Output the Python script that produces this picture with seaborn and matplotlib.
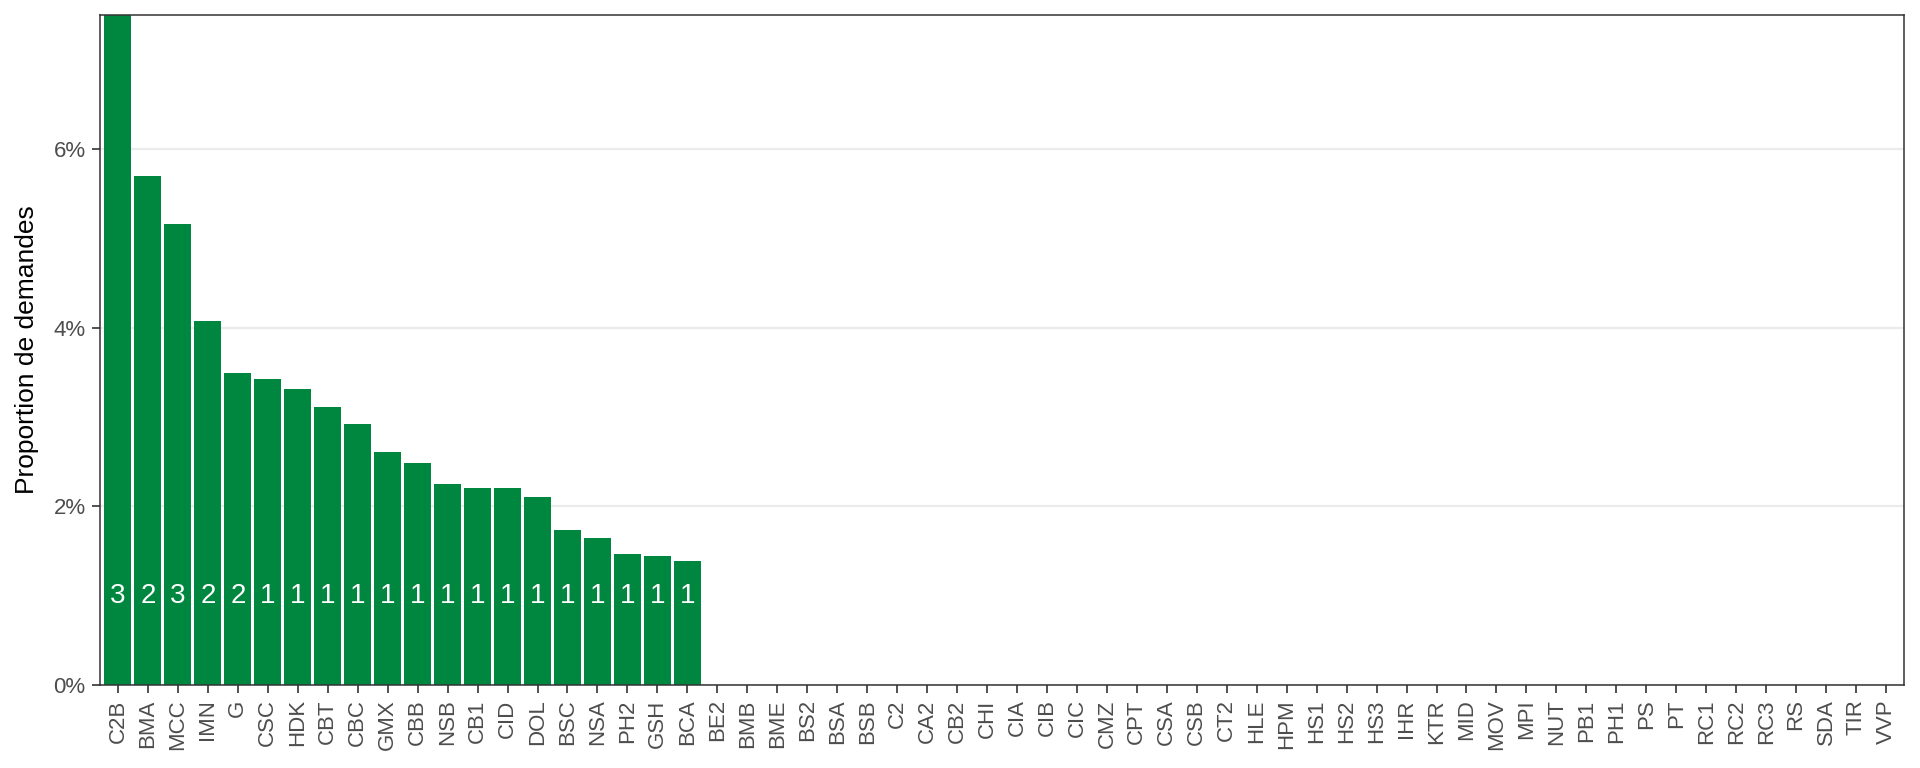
import matplotlib
matplotlib.use("Agg")
import matplotlib.pyplot as plt
import seaborn as sns
import pandas as pd
from matplotlib.ticker import FuncFormatter

categories = ["C2B", "BMA", "MCC", "IMN", "G", "CSC", "HDK", "CBT", "CBC", "GMX",
              "CBB", "NSB", "CB1", "CID", "DOL", "BSC", "NSA", "PH2", "GSH", "BCA",
              "BE2", "BMB", "BME", "BS2", "BSA", "BSB", "C2", "CA2", "CB2", "CHI",
              "CIA", "CIB", "CIC", "CMZ", "CPT", "CSA", "CSB", "CT2", "HLE", "HPM",
              "HS1", "HS2", "HS3", "IHR", "KTR", "MID", "MOV", "MPI", "NUT", "PB1",
              "PH1", "PS", "PT", "RC1", "RC2", "RC3", "RS", "SDA", "TIR", "VVP"]
proportions = [7.50, 5.70, 5.16, 4.07, 3.49, 3.43, 3.31, 3.11, 2.92, 2.61,
               2.48, 2.25, 2.20, 2.20, 2.10, 1.735, 1.645, 1.47, 1.447, 1.388] + [0.0] * 40
counts = [3, 2, 3, 2, 2, 1, 1, 1, 1, 1, 1, 1, 1, 1, 1, 1, 1, 1, 1, 1]

df = pd.DataFrame({"cat": categories, "prop": proportions})

sns.set_theme(style="white")
plt.rcParams["font.family"] = ["Liberation Sans", "DejaVu Sans"]

fig = plt.figure(figsize=(19.2, 7.68), dpi=100)
ax = fig.add_axes([100 / 1920, 1 - 685 / 768, 1804 / 1920, 670 / 768])

ax.yaxis.grid(True, color="#EBEBEB", linewidth=1.6, zorder=0)
ax.set_axisbelow(True)

sns.barplot(data=df, x="cat", y="prop", color="#00873F", saturation=1,
            width=0.9, order=categories, ax=ax, zorder=2, linewidth=0)

for i, c in enumerate(counts):
    ax.text(i, 1.0, str(c), ha="center", va="center", color="white",
            fontsize=20, zorder=3)

ax.set_xlim(-0.6, len(categories) - 0.4)
ax.set_ylim(0, 7.5)
ax.set_yticks([0, 2, 4, 6])
ax.yaxis.set_major_formatter(FuncFormatter(lambda v, p: f"{v:.0f}%"))
ax.set_xlabel("")
ax.set_ylabel("Proportion de demandes", fontsize=19, color="black")
ax.yaxis.set_label_coords((39 - 100) / 1804, 0.5)

for lab in ax.get_xticklabels():
    lab.set_rotation(90)
ax.tick_params(axis="both", which="major", labelsize=16, labelcolor="#4D4D4D",
               color="#333333", length=5.8, width=1.2, left=True, bottom=True, pad=4.5)

for s in ax.spines.values():
    s.set_color("#333333")
    s.set_linewidth(1.1)
    s.set_visible(True)

fig.savefig("out.png", dpi=100, facecolor="white")
